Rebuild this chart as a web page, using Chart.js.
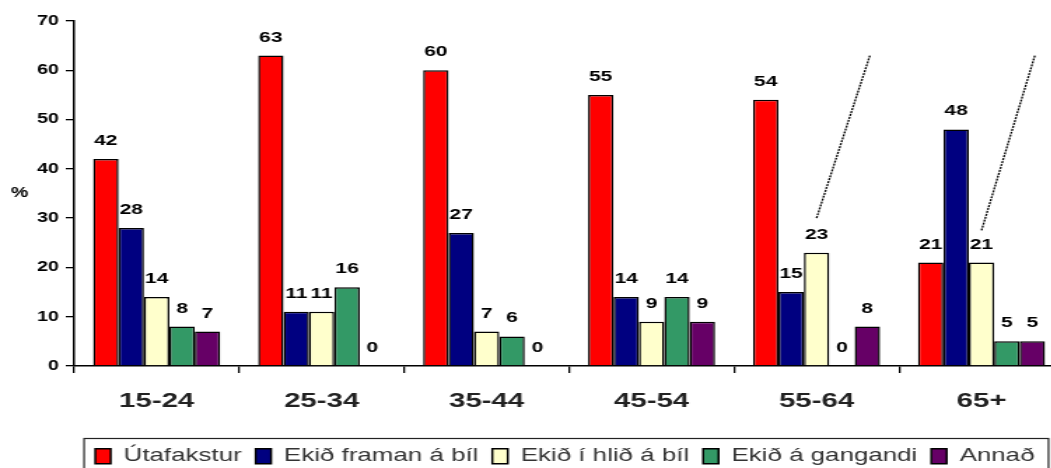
<!DOCTYPE html>
<html>
<head>
<meta charset="utf-8">
<script src="https://cdn.jsdelivr.net/npm/chart.js@4"></script>
<style>
  html, body { margin: 0; padding: 0; background: #fff; overflow: hidden; }
  /* the original picture is stretched sideways, so the chart is too */
  #wrap { width: 762px; height: 468px; transform: scaleX(1.4); transform-origin: 0 0; }
</style>
</head>
<body>
<div id="wrap"><canvas id="myBarChart" width="762" height="468"></canvas></div>
<script>
// age groups
const categories = ['15-24', '25-34', '35-44', '45-54', '55-64', '65+'];
// series names
const seriesNames = ['Útafakstur', 'Ekið framan á bíl', 'Ekið í hlið á bíl', 'Ekið á gangandi', 'Annað'];
// values (%)
const utafakstur = [42, 63, 60, 55, 54, 21];
const framanABil = [28, 11, 27, 14, 15, 48];
const hlidABil   = [14, 11, 7, 9, 23, 21];
const gangandi   = [8, 16, 6, 14, 0, 5];
const annad      = [7, 0, 0, 9, 8, 5];
// y axis ticks
const yTicks = [0, 10, 20, 30, 40, 50, 60, 70];
// dashed lines going up from the yellow bars (value range)
const breakCategories = ['55-64', '65+'];
const breakFrom = [30, 27.5];
const breakTo = [63, 63];

const colors = ['#FF0000', '#000080', '#FFFFCC', '#339966', '#660066'];
const fontFamily = '"Liberation Sans", Arial, sans-serif';
const plotBottom = 366;

window.onload = function () {
  const seriesValues = [utafakstur, framanABil, hlidABil, gangandi, annad];

  const chartData = {
    labels: categories,
    datasets: seriesNames.map(function (name, i) {
      return {
        label: name,
        data: seriesValues[i],
        backgroundColor: colors[i],
        borderColor: '#000',
        borderWidth: 1.5,
        categoryPercentage: 0.77,
        barPercentage: 1
      };
    })
  };

  // move legend under the plot and draw labels, % and dashed lines
  const extras = {
    id: 'extras',
    afterLayout(chart) {
      const lg = chart.legend;
      lg.left = chart.chartArea.left - 6;
      lg.right = chart.chartArea.right;
      lg.top = 437;
      lg.bottom = lg.top + lg.height;
    },
    afterDatasetsDraw(chart) {
      const ctx = chart.ctx;
      const y = chart.scales.y;
      ctx.save();

      // value labels
      ctx.font = 'bold 15px ' + fontFamily;
      ctx.fillStyle = '#000';
      ctx.textAlign = 'center';
      ctx.textBaseline = 'alphabetic';
      chart.data.datasets.forEach(function (ds, i) {
        chart.getDatasetMeta(i).data.forEach(function (bar, j) {
          ctx.fillText(String(ds.data[j]), bar.x, bar.y - 14);
        });
      });

      // % label
      ctx.font = 'bold 14px ' + fontFamily;
      ctx.textBaseline = 'middle';
      ctx.fillText('%', 14, (chart.chartArea.top + chart.chartArea.bottom) / 2);

      // dashed lines
      ctx.strokeStyle = '#000';
      ctx.lineWidth = 1.3;
      ctx.setLineDash([2, 1]);
      breakCategories.forEach(function (cat, k) {
        const bar = chart.getDatasetMeta(2).data[categories.indexOf(cat)];
        ctx.beginPath();
        ctx.moveTo(bar.x, y.getPixelForValue(breakFrom[k]));
        ctx.lineTo(bar.x + bar.width * 2.1, y.getPixelForValue(breakTo[k]));
        ctx.stroke();
      });
      ctx.restore();
    },
    afterDraw(chart) {
      // box round the legend
      const boxes = chart.legend.legendHitBoxes;
      if (!boxes || !boxes.length) return;
      let left = Infinity, right = -Infinity;
      boxes.forEach(function (b) {
        left = Math.min(left, b.left);
        right = Math.max(right, b.left + b.width);
      });
      const ctx = chart.ctx;
      ctx.save();
      ctx.strokeStyle = '#222';
      ctx.lineWidth = 1.2;
      ctx.strokeRect(left - 8, 438.5, right - left + 18, 40);
      ctx.restore();
    }
  };

  const ctx = document.getElementById('myBarChart').getContext('2d');
  const myBarChart = new Chart(ctx, {
    type: 'bar',
    data: chartData,
    plugins: [extras],
    options: {
      responsive: false,
      animation: false,
      layout: { padding: { top: 21, right: 2, left: 0, bottom: 0 } },
      plugins: {
        tooltip: { enabled: false },
        legend: {
          display: true,
          position: 'bottom',
          labels: {
            boxWidth: 11,
            boxHeight: 15,
            padding: 10,
            color: '#333',
            font: { family: fontFamily, size: 18.5 }
          }
        }
      },
      scales: {
        x: {
          grid: { offset: true, drawOnChartArea: false, tickLength: 7, color: '#000', lineWidth: 1.3 },
          border: { color: '#000', width: 1.5 },
          ticks: { color: '#222', padding: 16, font: { family: fontFamily, size: 21, weight: 'bold' } },
          afterFit: function (scale) {
            scale.height = scale.chart.height - scale.chart.legend.height - plotBottom;
          }
        },
        y: {
          min: yTicks[0],
          max: yTicks[yTicks.length - 1],
          grid: { drawOnChartArea: false, tickLength: 6, color: '#000', lineWidth: 1.3 },
          border: { color: '#000', width: 1.5 },
          ticks: {
            stepSize: yTicks[1] - yTicks[0],
            color: '#000',
            padding: 5,
            font: { family: fontFamily, size: 14, weight: 'bold' }
          },
          afterFit: function (scale) { scale.width = 53; }
        }
      }
    }
  });
};
</script>
</body>
</html>
